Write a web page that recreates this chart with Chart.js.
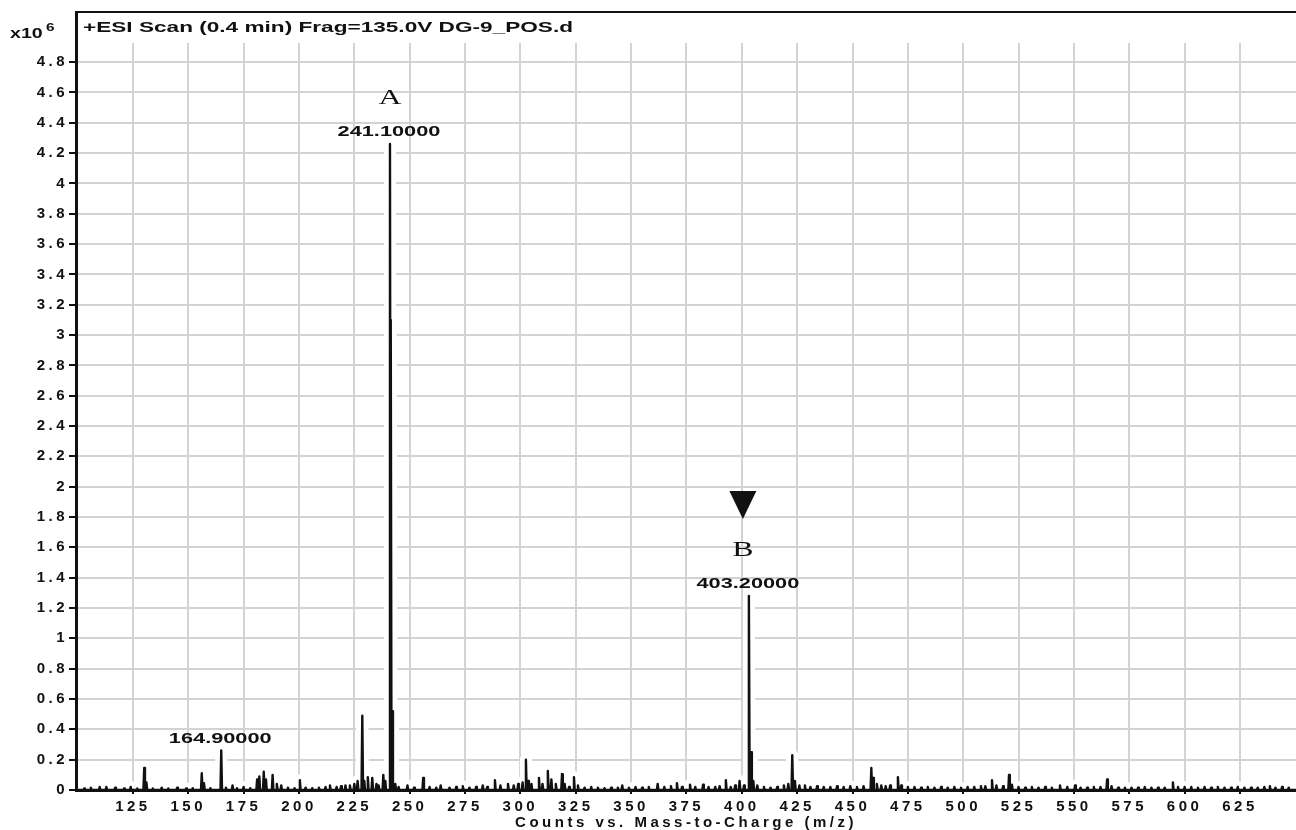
<!DOCTYPE html>
<html>
<head>
<meta charset="utf-8">
<title>ESI mass spectrum</title>
<script src="https://cdn.jsdelivr.net/npm/chart.js@4"></script>
<style>
  html, body { margin: 0; padding: 0; background: #fff; }
  canvas { display: block; }
</style>
</head>
<body>
<canvas id="ms" width="1296" height="830"></canvas>
<script>
// Centroid peaks of the scan: m/z and abundance in counts x10^6
const peakMz = [
  103, 106, 110, 113, 117, 121, 124, 127, 130.1, 131.1, 134, 138, 141, 145, 149, 152,
  156.1, 157.1, 160, 164.9, 167, 170, 172, 175, 178, 181.1, 182.1, 184.1, 185.1, 188.1,
  190, 192, 195, 198, 200.4, 203, 206, 209, 212, 214, 217, 219, 221, 223, 225, 226.5,
  228.6, 229.5, 231.1, 233.1, 235, 236, 238.1, 239, 241.1, 241.45, 242.1, 243.5, 245,
  249, 252, 256.1, 259, 262, 264, 268, 271, 274, 277, 280, 283, 285, 288.5, 291, 294.4,
  297, 299, 301, 302.5, 303.5, 305, 308.4, 310, 312.4, 314, 316, 318.8, 320, 322, 324.2,
  326, 329, 332, 335, 338, 341, 344, 346, 349, 352, 355, 358, 362, 365, 368, 370.7, 373,
  376.6, 379, 382.5, 385, 388, 390, 392.8, 395, 397, 399, 401, 403.2, 404.2, 405.2, 407,
  410, 413, 416, 419, 421, 422.8, 424, 426, 428.5, 431, 434, 437, 440, 443, 446, 449, 452,
  455, 458.5, 459.3, 461, 463, 465, 467, 470.5, 472, 475, 478, 481, 484, 487, 490, 493,
  496, 499, 502, 505, 508, 510, 513, 515, 518, 520.7, 522, 525, 528, 531, 534, 537, 540,
  543.7, 547, 550.5, 553, 556, 559, 562, 565, 567, 570, 573, 576, 579, 582, 585, 588,
  591, 594.7, 597, 600, 603, 606, 609, 612, 615, 618, 621, 624, 627, 630, 633, 636,
  638.5, 641, 644, 647
];
const peakCounts = [
  0.01, 0.015, 0.02, 0.02, 0.015, 0.01, 0.02, 0.01, 0.145, 0.05, 0.01, 0.015, 0.01, 0.015, 0.01, 0.012,
  0.11, 0.045, 0.012, 0.26, 0.015, 0.03, 0.012, 0.02, 0.012, 0.07, 0.09, 0.12, 0.07, 0.1,
  0.04, 0.03, 0.015, 0.012, 0.065, 0.015, 0.012, 0.015, 0.02, 0.03, 0.02, 0.025, 0.03, 0.03, 0.04, 0.06,
  0.49, 0.06, 0.085, 0.08, 0.04, 0.03, 0.1, 0.06, 4.26, 3.1, 0.52, 0.04, 0.02,
  0.03, 0.015, 0.08, 0.02, 0.015, 0.03, 0.015, 0.02, 0.025, 0.015, 0.02, 0.03, 0.02, 0.065, 0.03, 0.04,
  0.03, 0.04, 0.05, 0.2, 0.06, 0.04, 0.08, 0.04, 0.125, 0.07, 0.04, 0.105, 0.04, 0.02, 0.085,
  0.03, 0.015, 0.02, 0.015, 0.012, 0.015, 0.015, 0.03, 0.015, 0.02, 0.015, 0.02, 0.04, 0.02, 0.025, 0.045, 0.02,
  0.035, 0.02, 0.035, 0.02, 0.02, 0.025, 0.065, 0.02, 0.03, 0.06, 0.03, 1.28, 0.25, 0.06, 0.03,
  0.02, 0.015, 0.02, 0.03, 0.04, 0.23, 0.06, 0.03, 0.03, 0.02, 0.025, 0.02, 0.02, 0.025, 0.02, 0.025, 0.02,
  0.025, 0.145, 0.08, 0.04, 0.03, 0.025, 0.03, 0.085, 0.03, 0.02, 0.02, 0.015, 0.02, 0.015, 0.02, 0.015,
  0.02, 0.015, 0.02, 0.02, 0.025, 0.025, 0.065, 0.03, 0.025, 0.1, 0.035, 0.02, 0.015, 0.02, 0.015, 0.02, 0.015,
  0.03, 0.02, 0.03, 0.015, 0.015, 0.02, 0.02, 0.07, 0.025, 0.015, 0.015, 0.015, 0.015, 0.02, 0.015, 0.015,
  0.015, 0.05, 0.02, 0.02, 0.02, 0.015, 0.02, 0.015, 0.02, 0.015, 0.015, 0.02, 0.015, 0.015, 0.015, 0.02,
  0.025, 0.015, 0.02, 0.015
];

// Peaks annotated with their m/z, and the letter written above them
const labelledMz = [241.1, 403.2, 164.9];
const labelledTag = ['A', 'B', ''];
// Peaks flagged with a downward arrowhead
const arrowMz = [403.2];

// Axis ticks
const mzTicks = [125, 150, 175, 200, 225, 250, 275, 300, 325, 350, 375, 400, 425, 450, 475, 500, 525, 550, 575, 600, 625];
const countTicks = [0, 0.2, 0.4, 0.6, 0.8, 1, 1.2, 1.4, 1.6, 1.8, 2, 2.2, 2.4, 2.6, 2.8, 3, 3.2, 3.4, 3.6, 3.8, 4, 4.2, 4.4, 4.6, 4.8];
const mzRange = [99.3, 650.3];
const countMax = 5.13;

const scanTitle = '+ESI Scan (0.4 min) Frag=135.0V DG-9_POS.d';
const xTitle = 'Counts vs. Mass-to-Charge (m/z)';
const scaleLabel = 'x10';
const scaleExp = '6';

// Each centroid becomes a narrow spike on a zero baseline
const HALF_WIDTH = 0.35;
const trace = [{ x: mzRange[0], y: 0 }];
peakMz.forEach((m, i) => {
  trace.push({ x: m - HALF_WIDTH, y: 0 }, { x: m, y: peakCounts[i] }, { x: m + HALF_WIDTH, y: 0 });
});
trace.push({ x: mzRange[1], y: 0 });

const INK = '#111';
const GRID = '#d3d3d3';
const SPACING = '3.5px';

function stretchedText(ctx, text, x, y, font, sx, align) {
  ctx.save();
  ctx.letterSpacing = '0px';
  ctx.font = font;
  ctx.fillStyle = INK;
  ctx.textBaseline = 'middle';
  ctx.textAlign = align;
  ctx.translate(x, y);
  ctx.scale(sx, 1);
  ctx.fillText(text, 0, 0);
  ctx.restore();
}

const annotate = {
  id: 'annotate',
  beforeUpdate(chart) { chart.ctx.letterSpacing = SPACING; },
  beforeDraw(chart) { chart.ctx.letterSpacing = SPACING; },
  beforeDatasetsDraw(chart) {
    // title band at the top of the plot stays clear of grid lines
    const { ctx, chartArea: a } = chart;
    ctx.save();
    ctx.fillStyle = '#fff';
    ctx.fillRect(a.left, a.top, a.right - a.left, 31);
    ctx.restore();
  },
  afterDraw(chart) {
    const { ctx, chartArea: a, scales: { x, y } } = chart;
    // frame top edge
    ctx.save();
    ctx.strokeStyle = INK;
    ctx.lineWidth = 2;
    ctx.beginPath();
    ctx.moveTo(a.left, a.top);
    ctx.lineTo(a.right, a.top);
    ctx.stroke();
    ctx.restore();

    // scan description and exponent
    ctx.save();
    ctx.letterSpacing = '0px';
    ctx.font = 'bold 15px "Liberation Sans"';
    const w = ctx.measureText(scanTitle).width;
    ctx.restore();
    stretchedText(ctx, scanTitle, a.left + 7, a.top + 16, 'bold 15px "Liberation Sans"', 490 / w, 'left');
    stretchedText(ctx, scaleLabel, 10, 34, 'bold 14px "Liberation Sans"', 1.4, 'left');
    stretchedText(ctx, scaleExp, 46, 28, 'bold 11px "Liberation Sans"', 1.4, 'left');

    // peak annotations
    labelledMz.forEach((m, i) => {
      const k = peakMz.indexOf(m);
      const px = x.getPixelForValue(m);
      const top = y.getPixelForValue(peakCounts[k]);
      const flagged = arrowMz.includes(m);
      stretchedText(ctx, m.toFixed(5), px - 1, top - 12, 'bold 15px "Liberation Sans"', 1.45, 'center');
      const cx = flagged ? px - 6 : px;
      if (labelledTag[i]) {
        stretchedText(ctx, labelledTag[i], cx, top - 46, '22px "Liberation Serif"', 1.45, 'center');
      }
      if (flagged) {
        ctx.save();
        ctx.fillStyle = INK;
        ctx.beginPath();
        ctx.moveTo(cx - 13.5, top - 105);
        ctx.lineTo(cx + 13.5, top - 105);
        ctx.lineTo(cx, top - 77);
        ctx.closePath();
        ctx.fill();
        ctx.restore();
      }
    });
  }
};

const tickFont = { family: 'Liberation Sans', size: 15, weight: 'bold' };

new Chart(document.getElementById('ms'), {
  type: 'line',
  data: {
    datasets: [
      {
        data: trace,
        borderColor: INK,
        borderWidth: 2.4,
        borderJoinStyle: 'round',
        pointRadius: 0,
        tension: 0,
        order: 1
      },
      {
        // white halo that opens the grid around the trace
        data: trace,
        borderColor: '#fff',
        borderWidth: 12,
        borderJoinStyle: 'round',
        pointRadius: 0,
        tension: 0,
        clip: 0,
        order: 2
      }
    ]
  },
  options: {
    responsive: false,
    animation: false,
    events: [],
    layout: { padding: { top: 12, left: 0, right: 0, bottom: 0 } },
    plugins: { legend: { display: false }, tooltip: { enabled: false } },
    scales: {
      x: {
        type: 'linear',
        min: mzRange[0],
        max: mzRange[1],
        afterBuildTicks(s) { s.ticks = mzTicks.map(v => ({ value: v })); },
        afterFit(s) { s.height = 40; },
        ticks: {
          font: tickFont,
          color: INK,
          padding: 4,
          maxRotation: 0,
          autoSkip: false,
          callback: v => String(v)
        },
        grid: { color: GRID, lineWidth: 2, tickLength: 4, tickColor: INK, tickWidth: 2 },
        border: { color: INK, width: 3, z: 1 },
        title: {
          display: true,
          text: xTitle,
          color: INK,
          font: { family: 'Liberation Sans', size: 15, weight: 'bold', lineHeight: 1 },
          padding: { top: 0, bottom: 0 }
        }
      },
      y: {
        type: 'linear',
        min: 0,
        max: countMax,
        afterBuildTicks(s) { s.ticks = countTicks.map(v => ({ value: v })); },
        afterFit(s) { s.width = 76; },
        ticks: {
          font: tickFont,
          color: INK,
          padding: 1,
          autoSkip: false,
          callback: v => String(Math.round(v * 10) / 10)
        },
        grid: { color: GRID, lineWidth: 2, tickLength: 7, tickColor: INK, tickWidth: 2 },
        border: { color: INK, width: 3, z: 1 }
      }
    }
  },
  plugins: [annotate]
});
</script>
</body>
</html>
